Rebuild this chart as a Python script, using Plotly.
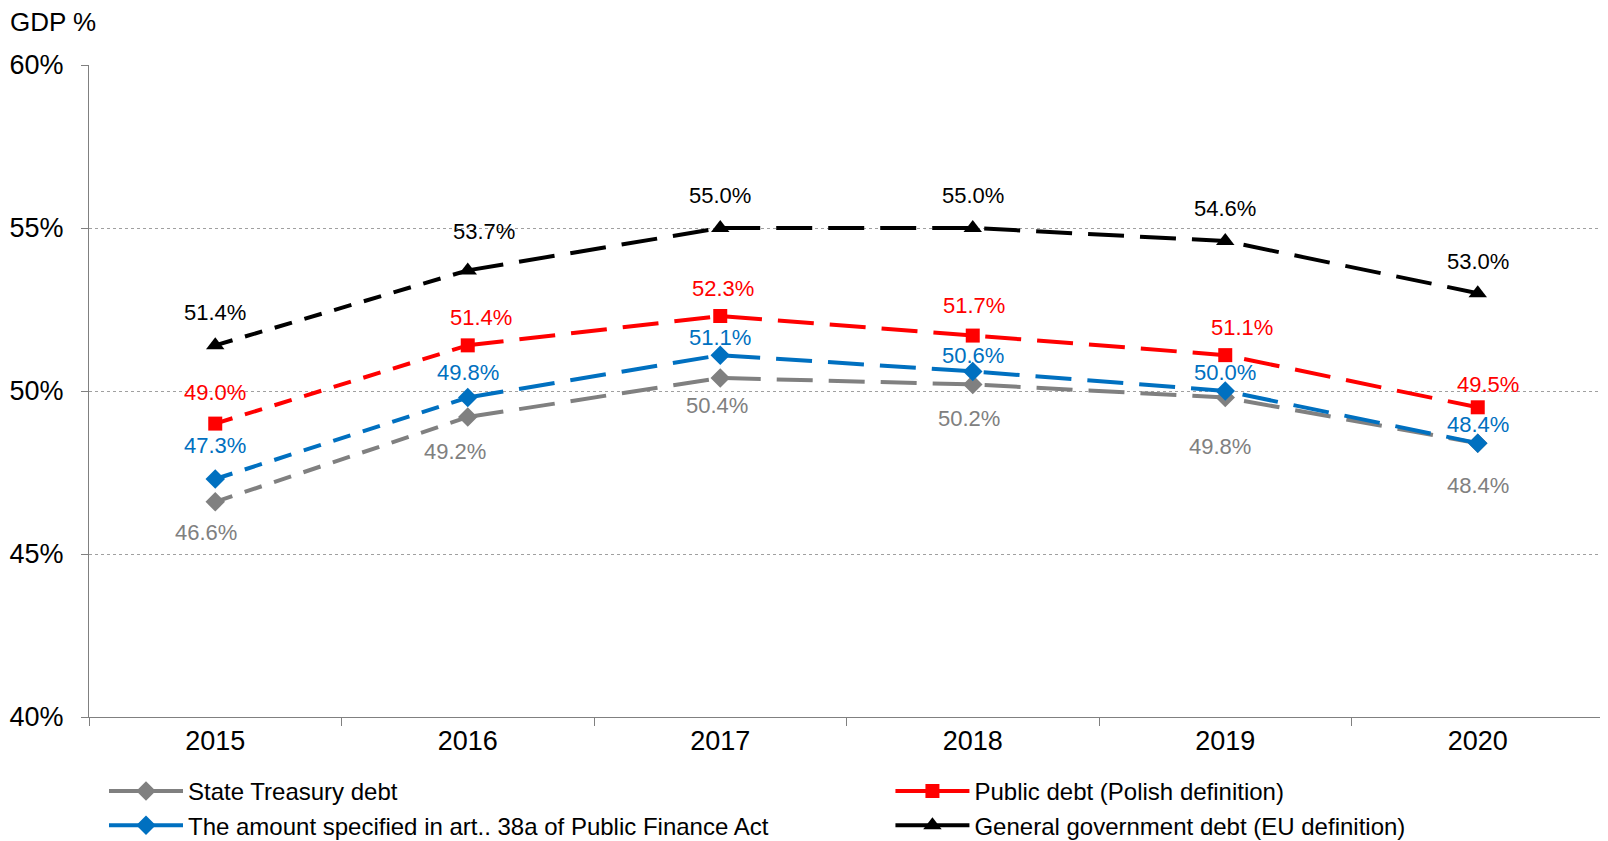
import plotly.graph_objects as go

# ---- data ----
years = ["2015", "2016", "2017", "2018", "2019", "2020"]
treasury_debt = [46.6, 49.2, 50.4, 50.2, 49.8, 48.4]
art38a_amount = [47.3, 49.8, 51.1, 50.6, 50.0, 48.4]
public_debt_pl = [49.0, 51.4, 52.3, 51.7, 51.1, 49.5]
gg_debt_eu = [51.4, 53.7, 55.0, 55.0, 54.6, 53.0]
y_tick_vals = [40, 45, 50, 55, 60]
y_tick_text = ["40%", "45%", "50%", "55%", "60%"]

names = {
    "treasury": "State Treasury debt",
    "art38a": "The amount specified in art.. 38a of Public Finance Act",
    "public": "Public debt (Polish definition)",
    "gg": "General government debt (EU definition)",
}

# ---- styles (label offsets in px: dx right, dy up) ----
styles = {
    "treasury": dict(color="#808080", symbol="diamond", size=15, legend="legend",
                     dx=[-9, -13, -3, -4, -5, 0], dy=[-31, -34, -28, -34, -49, -42]),
    "art38a": dict(color="#0070C0", symbol="diamond", size=15, legend="legend",
                   dx=[0, 0, 0, 0, 0, 0], dy=[34, 25, 18, 16, 19, 19]),
    "public": dict(color="#FF0000", symbol="square", size=14, legend="legend2",
                   dx=[0, 13, 3, 1, 17, 10], dy=[31, 28, 28, 30, 28, 23]),
    "gg": dict(color="#000000", symbol="triangle-up", size=16, legend="legend2",
               dx=[0, 16, 0, 0, 0, 0], dy=[33, 39, 33, 33, 33, 32]),
}
series = {
    "treasury": treasury_debt,
    "art38a": art38a_amount,
    "public": public_debt_pl,
    "gg": gg_debt_eu,
}
draw_order = ["treasury", "art38a", "public", "gg"]
legend_order = ["treasury", "art38a", "public", "gg"]

FONT = "Liberation Sans, Arial, sans-serif"
W, H = 1600, 833  # page body has an 8px margin
fig = go.Figure()

for key in draw_order:
    vals = series[key]
    st = styles[key]
    # first segment: short dashes
    fig.add_trace(go.Scatter(x=years[0:2], y=vals[0:2], mode="lines",
                             line=dict(color=st["color"], width=4, dash="18px,13px"),
                             showlegend=False, hoverinfo="skip"))
    # remaining segments: long dashes
    fig.add_trace(go.Scatter(x=years[1:], y=vals[1:], mode="lines",
                             line=dict(color=st["color"], width=4, dash="36px,16px"),
                             showlegend=False, hoverinfo="skip"))
    fig.add_trace(go.Scatter(x=years, y=vals, mode="markers",
                             marker=dict(color=st["color"], symbol=st["symbol"], size=st["size"]),
                             showlegend=False, name=names[key]))
    for i, yv in enumerate(vals):
        fig.add_annotation(x=i, y=yv, xref="x", yref="y", text=f"{yv:.1f}%", showarrow=False,
                           xshift=st["dx"][i], yshift=st["dy"][i],
                           xanchor="center", yanchor="middle",
                           font=dict(family=FONT, size=22, color=st["color"]))

for key in legend_order:
    st = styles[key]
    fig.add_trace(go.Scatter(x=[None], y=[None], mode="lines+markers",
                             line=dict(color=st["color"], width=4),
                             marker=dict(color=st["color"], symbol=st["symbol"], size=st["size"]),
                             name=names[key], showlegend=True, legend=st["legend"]))

legend_common = dict(orientation="v", yref="container", y=1 - 761 / H, yanchor="top",
                     xanchor="left", itemwidth=74,
                     font=dict(family=FONT, size=24, color="#000000"),
                     bgcolor="rgba(0,0,0,0)", tracegroupgap=0)

fig.update_layout(
    width=W, height=H,
    margin=dict(l=81, r=4, t=57, b=124, autoexpand=False),
    paper_bgcolor="white", plot_bgcolor="white",
    font=dict(family=FONT, size=25, color="#000000"),
    title=dict(text="GDP %", xref="container", x=2 / W, xanchor="left",
               yref="container", y=1 - 5 / H, yanchor="top", pad=dict(t=0, l=0, r=0, b=0),
               font=dict(family=FONT, size=26, color="#000000")),
    xaxis=dict(type="category", range=[-0.5, 5.5], tickson="boundaries",
               ticks="outside", ticklen=8, tickcolor="#808080",
               showline=True, linecolor="#808080", linewidth=1,
               showgrid=False, zeroline=False, automargin=False,
               tickfont=dict(family=FONT, size=27, color="#000000")),
    yaxis=dict(range=[40, 60], tickmode="array", tickvals=y_tick_vals, ticktext=y_tick_text,
               ticks="outside", ticklen=7, tickcolor="#808080",
               showline=True, linecolor="#808080", linewidth=1,
               showgrid=True, gridcolor="#A0A0A0", griddash="dot", gridwidth=1,
               zeroline=False, automargin=False, ticklabelstandoff=12,
               tickfont=dict(family=FONT, size=27, color="#000000")),
    legend=dict(x=0.0099, **legend_common),
    legend2=dict(x=0.529, **legend_common),
    showlegend=True,
)

fig.write_html("out.html")
